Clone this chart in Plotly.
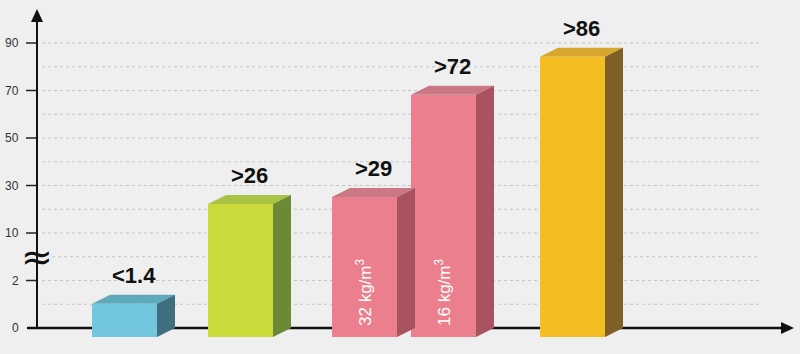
import numpy as np
import plotly.graph_objects as go

# ---------------- data ----------------
labels = ["<1.4", ">26", ">29", ">72", ">86"]
values = [1.4, 26, 29, 72, 88]
inner_text = ["", "", "32 kg/m<sup>3</sup>", "16 kg/m<sup>3</sup>", ""]
tick_vals = [0, 2, 10, 30, 50, 70, 90]
tick_text = ["0", "2", "10", "30", "50", "70", "90"]

# ---------------- styles / layout ----------------
front_cols = ["#72C6DD", "#C9DA3A", "#EC7F8D", "#EC7F8D", "#F4BE22"]
top_cols = ["#5FA9BD", "#A9C444", "#C97884", "#C97884", "#D8A62C"]
side_cols = ["#3F6F7F", "#6C8A35", "#A8535F", "#A8535F", "#7E5F28"]
bar_left = [92, 208, 332, 411, 540]   # front-face left edge (px units on x axis)
bar_w = 65
dx = 18          # depth, horizontal px
dy_px = 9        # depth, vertical px
unit_px = 47.5   # px per tick step on the broken axis
y0_px = 328      # px of value 0
W, H = 800, 354
axis_x = 37

def pos(v):
    # broken (piecewise-linear) value axis
    return float(np.interp(v, tick_vals, np.arange(len(tick_vals))))

dy = dy_px / unit_px
y_range = [-(H - y0_px) / unit_px, y0_px / unit_px]

fig = go.Figure()

# grid lines (dotted), every half step
shapes = []
for k in np.arange(0.5, len(tick_vals) - 0.5, 0.5):
    x_start = 52 if abs(k - 1.5) < 1e-6 else 42
    shapes.append(dict(type="line", xref="x", yref="y", x0=x_start, x1=760, y0=k, y1=k,
                       line=dict(color="#C4C4C4", width=1, dash="dot"), layer="below"))
# tick marks
for i, t in enumerate(tick_vals):
    if t == 0:
        continue
    shapes.append(dict(type="line", xref="x", yref="y", x0=26, x1=axis_x, y0=pos(t), y1=pos(t),
                       line=dict(color="#222", width=1.5), layer="below"))
# y axis line
shapes.append(dict(type="line", xref="x", yref="y", x0=axis_x, x1=axis_x, y0=0,
                   y1=(y0_px - 20) / unit_px, line=dict(color="#111", width=2), layer="below"))
# x axis line
shapes.append(dict(type="line", xref="x", yref="y", x0=27, x1=784, y0=0, y1=0,
                   line=dict(color="#111", width=2.5), layer="below"))
# arrowheads
ty = y0_px / unit_px
shapes.append(dict(type="path", xref="x", yref="y",
                   path=f"M {axis_x-6},{ty-22/unit_px} L {axis_x},{ty-9/unit_px} L {axis_x+6},{ty-22/unit_px} Z",
                   fillcolor="#111", line=dict(width=0), layer="below"))
shapes.append(dict(type="path", xref="x", yref="y",
                   path=f"M 781,{6/unit_px} L 794,0 L 781,{-6/unit_px} Z",
                   fillcolor="#111", line=dict(width=0), layer="below"))

# bars
for i, v in enumerate(values):
    p = pos(v)
    L = bar_left[i]
    # front face
    fig.add_trace(go.Bar(x=[L + bar_w / 2], y=[p], base=[-dy], width=[bar_w],
                         marker=dict(color=front_cols[i], line=dict(width=0)),
                         hoverinfo="skip", showlegend=False))
    # top face
    fig.add_trace(go.Scatter(x=[L, L + bar_w, L + bar_w + dx, L + dx, L],
                             y=[p - dy, p - dy, p, p, p - dy],
                             fill="toself", fillcolor=top_cols[i], mode="none",
                             hoverinfo="skip", showlegend=False))
    # side face
    fig.add_trace(go.Scatter(x=[L + bar_w, L + bar_w + dx, L + bar_w + dx, L + bar_w, L + bar_w],
                             y=[-dy, 0, p, p - dy, -dy],
                             fill="toself", fillcolor=side_cols[i], mode="none",
                             hoverinfo="skip", showlegend=False))

annotations = []
for i, v in enumerate(values):
    p = pos(v)
    L = bar_left[i]
    annotations.append(dict(x=L + (bar_w + dx) / 2, y=p, xref="x", yref="y",
                            text=f"<b>{labels[i]}</b>", showarrow=False,
                            yanchor="bottom", yshift=5,
                            font=dict(family="Liberation Sans, Arial", size=22, color="#111")))
    if inner_text[i]:
        annotations.append(dict(x=L + bar_w / 2 - 1, y=0, xref="x", yref="y",
                                text=inner_text[i], showarrow=False, textangle=-90,
                                xanchor="center", yanchor="bottom",
                                font=dict(family="Liberation Sans, Arial", size=17, color="#FFFFFF")))
for t, tt in zip(tick_vals, tick_text):
    annotations.append(dict(x=21, y=pos(t), xref="x", yref="y", text=tt, showarrow=False,
                            xanchor="right", yanchor="middle",
                            font=dict(family="Liberation Sans, Arial", size=12, color="#333")))
# axis break mark
annotations.append(dict(x=axis_x, y=1.5, xref="x", yref="y", text="≈", showarrow=False,
                        xanchor="center", yanchor="middle",
                        font=dict(family="DejaVu Sans", size=38, color="#111")))

fig.update_layout(
    width=W, height=H,
    margin=dict(l=0, r=0, t=0, b=0),
    paper_bgcolor="#EFEFEF", plot_bgcolor="#EFEFEF",
    xaxis=dict(range=[0, W], visible=False, fixedrange=True),
    yaxis=dict(range=y_range, visible=False, fixedrange=True),
    shapes=shapes, annotations=annotations,
    barmode="overlay", bargap=0,
)

fig.write_html("out.html", config={"displayModeBar": False})
